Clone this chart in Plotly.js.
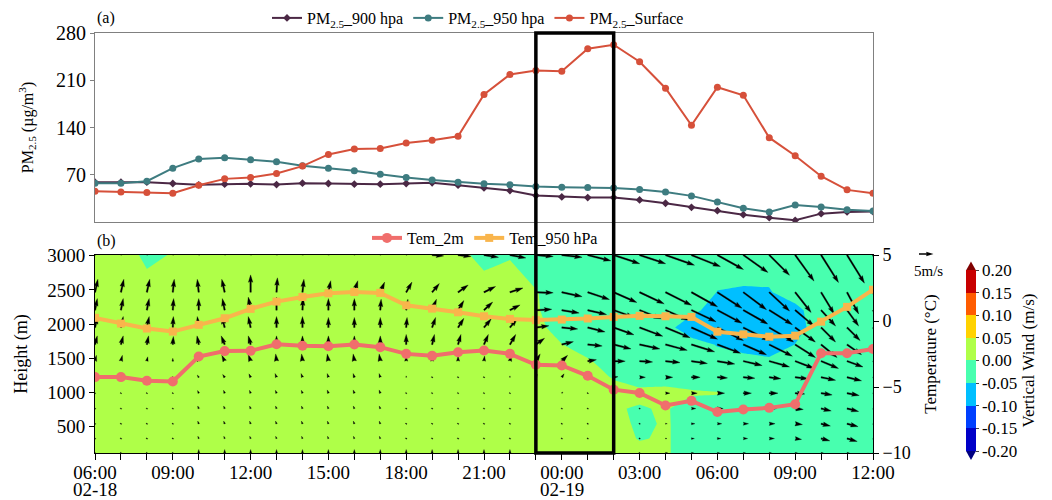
<!DOCTYPE html>
<html>
<head>
<meta charset="utf-8">
<script src="https://cdn.plot.ly/plotly-3.0.1.min.js"></script>
<style>html,body{margin:0;padding:0;background:#fff;}#chart{width:1052px;height:500px;}</style>
</head>
<body>
<div id="chart"></div>
<script>
// ================= DATA =================
// hours since 02-18 06:00
const hours = [0,1,2,3,4,5,6,7,8,9,10,11,12,13,14,15,16,17,18,19,20,21,22,23,24,25,26,27,28,29,30];
const tickHours = [0,3,6,9,12,15,18,21,24,27,30];
const tickLabels = ['06:00','09:00','12:00','15:00','18:00','21:00','00:00','03:00','06:00','09:00','12:00'];
const dateHours = [0,18];
const dateLabels = ['02-18','02-19'];

// (a) PM2.5 (ug/m3)
const pm900 = [59,59,59,57,55,56,56.5,55.5,57.5,57,56,56,57,58,54.5,50.5,46.6,39.2,37.2,36.2,36.2,32.7,27.8,21.8,16.8,10.9,6.4,2.5,12.4,14.9,15.4];
const pm950 = [57.5,57.5,60.5,79.8,93.2,95.2,92.2,89.2,83.3,79.8,75.8,70.9,65.9,62.4,59,56.5,55,52.5,51.5,51,50.5,48,44.6,38.7,29.7,20.3,14.9,25.3,22.3,18.3,16.4];
const pmSurface = [45.6,44.6,43.6,42.6,54.5,63.9,65.9,71.9,82.8,100.1,108,109,117,121,127,189,218.6,224.5,223.5,256.7,262.7,237.4,198.2,143.2,199.7,187.8,124.9,98.1,67.9,47.6,42.6];

// (b) temperature (deg C)
const tem2m = [-4.25,-4.25,-4.53,-4.58,-2.69,-2.28,-2.26,-1.76,-1.88,-1.91,-1.78,-1.98,-2.49,-2.64,-2.36,-2.23,-2.49,-3.32,-3.37,-4.15,-5.2,-5.45,-6.4,-6.05,-6.9,-6.7,-6.58,-6.3,-2.44,-2.44,-2.12];
const tem950 = [0.24,-0.19,-0.57,-0.8,-0.29,0.21,0.92,1.47,1.82,2.1,2.2,2.13,1.19,0.94,0.66,0.36,0.16,0.07,0.11,0.19,0.31,0.39,0.36,0.31,-0.81,-1.01,-1.19,-1.11,-0.05,1.07,2.37];

// (b) height of levels 1000,975,950,925,900,875,850,825,800,775,750,700 hPa (m)
const levelHeights = [111,323,540,762,988,1220,1457,1700,1949,2204,2466,3012];

// vertical wind (m/s), one row per level (bottom -> top), one value per hour
const verticalWind = [
  [0.025,0.025,0.025,0.025,0.025,0.025,0.025,0.025,0.025,0.025,0.025,0.025,0.025,0.025,0.025,0.025,0.025,0.025,0.025,0.025,0.02,0.015,0.005,-0.02,-0.02,-0.02,-0.02,-0.02,-0.02,-0.02,-0.02],
  [0.025,0.025,0.025,0.025,0.025,0.025,0.025,0.025,0.025,0.025,0.025,0.025,0.025,0.025,0.025,0.025,0.025,0.025,0.025,0.025,0.02,-0.003,0.005,-0.02,-0.02,-0.02,-0.02,-0.02,-0.02,-0.02,-0.02],
  [0.025,0.025,0.025,0.025,0.025,0.025,0.025,0.025,0.025,0.025,0.025,0.025,0.025,0.025,0.025,0.025,0.025,0.025,0.025,0.025,0.02,-0.01,0.005,-0.02,-0.02,-0.02,-0.02,-0.02,-0.02,-0.02,-0.02],
  [0.025,0.025,0.025,0.025,0.025,0.025,0.025,0.025,0.025,0.025,0.025,0.025,0.025,0.025,0.025,0.025,0.025,0.025,0.025,0.025,0.004,-0.004,0.005,-0.023,-0.02,-0.02,-0.02,-0.02,-0.02,-0.02,-0.02],
  [0.025,0.025,0.025,0.025,0.025,0.025,0.025,0.025,0.025,0.025,0.025,0.025,0.025,0.025,0.025,0.025,0.025,0.025,0.025,0.025,0.02,0.011,0.014,0.005,0.0022,-0.02,-0.02,-0.02,-0.02,-0.02,-0.02],
  [0.025,0.025,0.025,0.025,0.025,0.025,0.025,0.025,0.025,0.025,0.025,0.025,0.025,0.025,0.025,0.025,0.025,0.025,0.025,0.025,-0.004,-0.02,-0.02,-0.02,-0.025,-0.025,-0.025,-0.025,-0.025,-0.025,-0.025],
  [0.025,0.025,0.025,0.025,0.025,0.025,0.025,0.025,0.025,0.025,0.025,0.025,0.025,0.025,0.025,0.025,0.025,0.025,0.025,0.006,-0.025,-0.025,-0.025,-0.025,-0.025,-0.025,-0.035,-0.025,-0.025,-0.025,-0.025],
  [0.025,0.025,0.025,0.025,0.025,0.025,0.025,0.025,0.025,0.025,0.025,0.025,0.025,0.025,0.025,0.025,0.025,0.025,0.001,-0.025,-0.025,-0.025,-0.025,-0.021,-0.054,-0.078,-0.095,-0.049,-0.025,-0.025,-0.025],
  [0.025,0.025,0.025,0.025,0.025,0.025,0.025,0.025,0.025,0.025,0.025,0.025,0.025,0.025,0.025,0.025,0.025,0.015,-0.022,-0.025,-0.025,-0.025,-0.025,-0.093,-0.09,-0.095,-0.095,-0.07,-0.025,-0.025,-0.025],
  [0.025,0.025,0.025,0.025,0.025,0.025,0.025,0.025,0.025,0.025,0.025,0.025,0.025,0.025,0.025,0.025,0.025,0.006,-0.03,-0.025,-0.025,-0.025,-0.025,-0.032,-0.08,-0.09,-0.09,-0.062,-0.025,-0.025,-0.025],
  [0.025,0.025,0.025,0.025,0.025,0.025,0.025,0.025,0.025,0.025,0.025,0.025,0.025,0.025,0.025,0.019,0.026,0.003,-0.025,-0.025,-0.025,-0.025,-0.025,-0.025,-0.051,-0.054,-0.053,-0.03,-0.025,-0.025,-0.025],
  [0.025,0.034,-0.015,0.004,0.025,0.025,0.025,0.025,0.025,0.025,0.025,0.025,0.025,0.025,0.012,-0.014,-0.004,-0.03,-0.03,-0.03,-0.03,-0.03,-0.03,-0.03,-0.03,-0.03,-0.03,-0.03,-0.03,-0.03,-0.03]
];

// horizontal wind components (m/s), same grid
const windU = [
  [0,0,0,0,0,0,0,0,0,0,0,0,0,0,0,0,0,0.2,0.2,0.2,0.2,0.2,0.8,0.8,0.8,0.8,0.8,0.8,0.8,0.8,0.8],
  [0,0,0,0,-0.3,-0.3,-0.3,-0.3,-0.3,-0.3,-0.3,-0.3,0,0,0,0,0,0.2,0.2,0.2,0.2,0.2,0.5,1,1.2,1.5,1.8,2.2,3,3.5,3.5],
  [0,0,0,0,-0.35,-0.35,-0.35,-0.35,-0.35,-0.35,-0.35,-0.35,0,0,0,0,0,0.2,0.2,0.2,0.2,0.2,0.6,1.2,1.5,1.8,2,2.5,3.2,3.8,3.8],
  [0,0,0,0,-0.35,-0.35,-0.35,-0.35,-0.35,-0.35,-0.35,-0.35,0,0,0,0,0,0.1,0.2,0.2,0.3,0.4,0.8,1.5,2,2.2,2.5,2.8,3.5,4,4],
  [0,0,0,0,-0.4,-0.4,-0.4,-0.4,-0.4,-0.4,-0.4,-0.4,0,0,0,0,0,0.2,0.4,0.3,0.5,0.8,1.5,2,2.5,2.8,3,3.3,3.8,4.2,4.5],
  [0.1,0.1,0.1,0,-0.5,-0.7,-0.6,-0.5,-0.5,-0.4,-0.4,-0.4,0,0,0,0,0,0.5,0.8,1,1.5,2,2.5,3,3.5,4,4,4.5,5,5,5],
  [0.5,0.5,0.3,0,-0.6,-1,-0.8,-0.3,-0.3,-0.4,-0.4,-0.4,0,0,0,0.2,0.5,1.5,2,3,4,4.5,5,5.5,6,6.5,7,6.5,6,5.5,5],
  [0.8,0.8,0.6,0.2,-0.6,-1.2,-0.8,0,0,0,0,0,0,0.8,1,1.5,2,3,4,5,6,7,7.5,8,8,8,8,7,5.5,5,4.5],
  [0.8,0.8,0.8,0.2,-0.5,-1,-0.8,0,0,0,0,0,0.3,1.2,2,2.5,2.5,4.5,5.5,6,7,8,8.5,9,9,9,8.5,7,5,4.5,4],
  [0.8,0.8,0.8,0.3,0,-0.8,-0.8,0,0.2,0,0,0.3,0.6,1.5,2,3,3.5,5.5,6,6.5,7,7.5,8,8.5,8.5,8.5,8,6.5,5,4,3.5],
  [1,1,1,0.5,-0.5,-1,0,0.3,0.5,0.8,1.2,1.5,2,2.5,3.5,4,4.5,6,7,7.5,8,8.5,9,9,8.5,8,7,5.5,4.5,4,3.5],
  [1,1,1,1,1,1,1,1,1,1,1,1,2,4,4.5,5,5.5,6,7,8,9,9,10,10,9,8.5,7,6.5,6,6,5.5]
];
const windV = [
  [0.2,0.2,0.2,0.2,1.2,1.2,1.2,1.2,1.2,1.2,1.2,1.2,1.2,1.2,1.2,1.2,1.2,0.2,0.2,0.2,0.2,0.2,0,0,0,0,0,0,0,0,0],
  [0.1,0.1,0.1,0.1,0.8,0.8,0.8,0.8,0.8,0.8,0.8,0.8,0.4,0.4,0.4,0.4,0.4,0.1,0.1,0.1,0.1,0.1,0,0,0,0,0,-0.3,-0.8,-1,-1],
  [0.1,0.1,0.1,0.1,0.9,0.9,0.9,0.9,0.9,0.9,0.9,0.9,0.35,0.35,0.35,0.35,0.35,0.1,0.1,0.1,0.1,0.1,0,0,0,0,0,-0.3,-0.8,-1,-1],
  [0.1,0.1,0.1,0.1,0.9,0.9,0.9,0.9,0.9,0.9,0.9,0.9,0.3,0.3,0.3,0.3,0.3,0.2,0.2,0.2,0.1,0,0,0,0,0,0,-0.3,-0.8,-1,-1],
  [0.15,0.15,0.15,0.15,0.9,1,1,1,1,1.1,1.1,1.1,0.3,0.3,0.3,0.3,0.3,0.3,0.4,0.2,0,0,0,0,0,0,0,-0.3,-0.6,-0.8,-0.8],
  [0.3,0.3,0.3,0.3,0.8,1,1.2,1.3,1.3,1.3,1.3,1.3,0.5,0.4,0.4,0.4,0.5,1,1.2,0.5,0.2,0,0,0,-0.2,-0.3,-0.5,-0.5,-1,-1.2,-1.2],
  [2,2,1.5,1,1.6,2,2.3,2.5,2.5,2.5,2.5,2.5,1.8,1.8,1.8,1.8,2,2.5,2,0.5,0,-0.3,-0.5,-0.8,-1,-1.5,-2,-2.5,-2.5,-2,-2],
  [3,3,3,2.8,3,3,3,3,3,3,3,3,3.5,3.5,3.5,3.5,3.5,2.2,1,-0.5,-1.5,-1.5,-2,-2.5,-3,-3.5,-4,-4.5,-4.5,-3.5,-3],
  [3.8,3.8,3.8,3.8,3.8,3.8,3.8,3.8,3.8,3.5,3.5,3.5,3.5,3.5,3.2,3,3,0.6,-0.5,-1.5,-2.5,-3,-3.5,-4,-4.5,-4.5,-5,-5,-5,-4.5,-4],
  [4,4,4,4,4,4,4.5,4.5,4.2,4,4,3.8,3.8,3.8,3.3,2.8,1.8,0.3,-1,-1.5,-2.5,-3,-3.5,-4,-4.5,-4.8,-5,-5.5,-5.5,-5.5,-5],
  [4.5,4.5,4.5,4.5,4.5,4.5,6,5,4.5,4,4,3.5,3.5,3,2.5,2,1.5,-0.2,-1.5,-2.5,-3.5,-4,-4.5,-5,-5.5,-6,-6.5,-7,-7.5,-7.5,-7.5],
  [5,5,5,5,5,5,5,5,5,5,5,5,4,-0.3,-0.5,-0.8,-1,-0.5,-0.8,-2,-3,-3,-3.5,-4,-5,-6,-7,-9,-9.5,-9.7,-10]
];

// colour levels of vertical wind
const windLevels = [-0.2,-0.15,-0.1,-0.05,0,0.05,0.1,0.15,0.2];
const windTickText = ['-0.20','-0.15','-0.10','-0.05','0.00','0.05','0.10','0.15','0.20'];
const windBandColors = ['#0000c8','#0040ff','#00bfff','#48ffaf','#afff48','#ffd200','#ff5c00','#c80000'];
const windUnderColor = '#000080';
const windOverColor = '#800000';

// highlighted period 23:00 - 02:00
const highlightStart = 17, highlightEnd = 20;
const keySpeed = 5; // quiver key, m/s

// ================= GEOMETRY =================
const W = 1052, H = 500;
const M = {l: 95, r: 179, t: 33, b: 47};
const PW = W - M.l - M.r, PH = H - M.t - M.b;
const topDom = [0.55, 1];
const botDom = [0, 0.4714];
const X_RANGE = [0, 30];
const Y2_RANGE = [levelHeights[0], levelHeights[levelHeights.length - 1]];
const pxPerHour = PW / (X_RANGE[1] - X_RANGE[0]);
const pxPerM = (PH * (botDom[1] - botDom[0])) / (Y2_RANGE[1] - Y2_RANGE[0]);
const ARROW_SCALE = 2.9; // px per m/s
const FONT = 'Liberation Serif, Times New Roman, serif';

function px2paperX(px) { return (px - M.l) / PW; }
function px2paperY(py) { return (H - M.b - py) / PH; }

// arrow outline in px (y up), tail at origin
function arrowOutline(u, v) {
  const L = Math.hypot(u, v) * ARROW_SCALE;
  const w = 1.5, hl = 7.5, hal = 6.75, hw = 4.5;
  let pts;
  if (L < 1.2) {
    pts = [];
    for (let k = 0; k < 6; k++) { const a = k * Math.PI / 3; pts.push([0.8 * Math.cos(a), 0.8 * Math.sin(a)]); }
    return pts;
  } else if (L < hl) {
    const s = L / hl;
    pts = [[0, -hw / 2 * s], [L, 0], [0, hw / 2 * s], [(hl - hal) * s, 0]];
  } else {
    pts = [[0, -w / 2], [L - hal, -w / 2], [L - hl, -hw / 2], [L, 0], [L - hl, hw / 2], [L - hal, w / 2], [0, w / 2]];
  }
  const ang = Math.atan2(v, u), c = Math.cos(ang), s2 = Math.sin(ang);
  return pts.map(([a, b]) => [a * c - b * s2, a * s2 + b * c]);
}

const arrX = [], arrY = [];
levelHeights.forEach((hgt, r) => {
  hours.forEach((t, c) => {
    const pts = arrowOutline(windU[r][c], windV[r][c]);
    pts.forEach(([a, b]) => { arrX.push(t + a / pxPerHour); arrY.push(hgt + b / pxPerM); });
    arrX.push(t + pts[0][0] / pxPerHour); arrY.push(hgt + pts[0][1] / pxPerM);
    arrX.push(null); arrY.push(null);
  });
});

// contour colourscale: band k is sampled near k/9 (robust step edges)
const contourScale = [];
const allCols = [windUnderColor].concat(windBandColors).concat([windOverColor]);
const off = 1 / 36;
for (let k = 0; k < allCols.length; k++) {
  const a = Math.max(0, k / 9 - off), b = Math.min(1, (k + 1) / 9 - off);
  if (b <= a) continue;
  contourScale.push([a, allCols[k]]);
  contourScale.push([b, allCols[k]]);
}
contourScale[contourScale.length - 1][0] = 1;

// colorbar (stepped) scale
const barScale = [];
windBandColors.forEach((col, i) => {
  barScale.push([i / windBandColors.length, col]);
  barScale.push([(i + 1) / windBandColors.length, col]);
});

// ================= TRACES =================
const traces = [
  {type: 'scatter', mode: 'lines+markers', x: hours, y: pm900, name: 'PM<sub>2.5</sub>_900 hpa', xaxis: 'x', yaxis: 'y',
   line: {color: '#4b2845', width: 2}, marker: {symbol: 'diamond', size: 6, color: '#4b2845'}, legend: 'legend'},
  {type: 'scatter', mode: 'lines+markers', x: hours, y: pm950, name: 'PM<sub>2.5</sub>_950 hpa', xaxis: 'x', yaxis: 'y',
   line: {color: '#3e7c80', width: 2}, marker: {symbol: 'circle', size: 7, color: '#3e7c80'}, legend: 'legend'},
  {type: 'scatter', mode: 'lines+markers', x: hours, y: pmSurface, name: 'PM<sub>2.5</sub>_Surface', xaxis: 'x', yaxis: 'y',
   line: {color: '#d6503a', width: 2}, marker: {symbol: 'circle', size: 7, color: '#d6503a'}, legend: 'legend'},
  {type: 'heatmap', x: hours, y: levelHeights, z: verticalWind, xaxis: 'x2', yaxis: 'y2', opacity: 0,
   zmin: windLevels[0], zmax: windLevels[windLevels.length - 1], colorscale: barScale, showscale: true, hoverinfo: 'skip',
   colorbar: {thickness: 10, thicknessmode: 'pixels', len: 181, lenmode: 'pixels',
     x: px2paperX(966), xanchor: 'left', xpad: 0, y: px2paperY(360.5), yanchor: 'middle', ypad: 0,
     outlinewidth: 0, tickvals: windLevels, ticktext: windTickText, ticks: 'outside', ticklen: 3,
     tickfont: {size: 17, family: FONT}, title: {text: 'Vertical Wind (m/s)', side: 'right', font: {size: 17, family: FONT}}}},
  {type: 'contour', x: hours, y: levelHeights, z: verticalWind, xaxis: 'x2', yaxis: 'y2',
   autocontour: false, contours: {start: windLevels[0], end: windLevels[windLevels.length - 1], size: 0.05, coloring: 'fill', showlines: false},
   line: {width: 0, smoothing: 0}, colorscale: contourScale, showscale: false, hoverinfo: 'skip'},
  {type: 'scatter', mode: 'lines', x: arrX, y: arrY, xaxis: 'x2', yaxis: 'y2', fill: 'toself', fillcolor: '#000',
   line: {color: '#000', width: 0.3}, showlegend: false, hoverinfo: 'skip'},
  {type: 'scatter', mode: 'lines+markers', x: hours, y: tem2m, name: 'Tem_2m', xaxis: 'x2', yaxis: 'y3',
   line: {color: '#f06e6c', width: 4}, marker: {symbol: 'circle', size: 10, color: '#f06e6c'}, legend: 'legend2'},
  {type: 'scatter', mode: 'lines+markers', x: hours, y: tem950, name: 'Tem_950 hPa', xaxis: 'x2', yaxis: 'y3',
   line: {color: '#f9b54c', width: 4}, marker: {symbol: 'square', size: 8, color: '#f9b54c'}, legend: 'legend2'}
];

// ================= SHAPES =================
function polyPath(pts) { return 'M' + pts.map(p => p[0].toFixed(5) + ',' + p[1].toFixed(5)).join('L') + 'Z'; }
const shapes = [];
shapes.push({type: 'rect', xref: 'x', yref: 'paper', x0: highlightStart, x1: highlightEnd, y0: 0, y1: 1,
  line: {color: '#000', width: 3.5}, fillcolor: 'rgba(0,0,0,0)', layer: 'above'});
const cbL = 966, cbR = 976, cbTop = 270.5, cbBot = 451;
shapes.push({type: 'path', xref: 'paper', yref: 'paper', fillcolor: windOverColor, line: {width: 0},
  path: polyPath([[px2paperX(cbL), px2paperY(cbTop)], [px2paperX(cbR), px2paperY(cbTop)], [px2paperX((cbL + cbR) / 2), px2paperY(cbTop - 9)]])});
shapes.push({type: 'path', xref: 'paper', yref: 'paper', fillcolor: windUnderColor, line: {width: 0},
  path: polyPath([[px2paperX(cbL), px2paperY(cbBot)], [px2paperX(cbR), px2paperY(cbBot)], [px2paperX((cbL + cbR) / 2), px2paperY(cbBot + 9)]])});
const keyPts = arrowOutline(keySpeed, 0);
const keyTail = [919, 254];
shapes.push({type: 'path', xref: 'paper', yref: 'paper', fillcolor: '#000', line: {width: 0},
  path: polyPath(keyPts.map(([a, b]) => [px2paperX(keyTail[0] + a), px2paperY(keyTail[1] - b)]))});

// ================= LAYOUT =================
const axisCommon = {showgrid: false, zeroline: false, showline: true, fixedrange: true};
const annotations = [
  {text: '(a)', xref: 'paper', yref: 'paper', x: 0, y: px2paperY(18), xanchor: 'left', yanchor: 'middle', showarrow: false, font: {size: 16}},
  {text: '(b)', xref: 'paper', yref: 'paper', x: 0, y: px2paperY(241), xanchor: 'left', yanchor: 'middle', showarrow: false, font: {size: 16}},
  {text: '5m/s', xref: 'paper', yref: 'paper', x: px2paperX(928), y: px2paperY(271), xanchor: 'center', yanchor: 'middle', showarrow: false, font: {size: 15}}
];
dateHours.forEach((h, i) => annotations.push({text: dateLabels[i], xref: 'x2', yref: 'paper', x: h, y: px2paperY(490),
  xanchor: 'center', yanchor: 'middle', showarrow: false, font: {size: 19}}));

const layout = {
  width: W, height: H,
  margin: {l: M.l, r: M.r, t: M.t, b: M.b, pad: 0, autoexpand: false},
  paper_bgcolor: '#fff', plot_bgcolor: 'rgba(0,0,0,0)',
  font: {family: FONT, size: 16, color: '#000'},
  xaxis: Object.assign({}, axisCommon, {domain: [0, 1], anchor: 'y', range: X_RANGE, showticklabels: false, ticks: '',
    mirror: true, linecolor: '#808080', linewidth: 1}),
  yaxis: Object.assign({}, axisCommon, {domain: topDom, anchor: 'x', range: [0, 280], tickvals: [70, 140, 210, 280],
    ticks: 'outside', ticklen: 4, tickcolor: '#808080', mirror: true, linecolor: '#808080', linewidth: 1,
    tickfont: {size: 20}, title: {text: 'PM<sub>2.5</sub> (µg/m<sup>3</sup>)', font: {size: 16}, standoff: 18}}),
  xaxis2: Object.assign({}, axisCommon, {domain: [0, 1], anchor: 'y2', range: X_RANGE, tickmode: 'array', tickvals: tickHours,
    ticktext: tickLabels, ticks: 'outside', ticklen: 6, tickcolor: '#000', mirror: true, linecolor: '#000', linewidth: 1,
    ticklabelstandoff: -4, tickfont: {size: 19},
    minor: {tickmode: 'array', tickvals: hours, ticks: 'outside', ticklen: 6, tickcolor: '#000', showgrid: false}}),
  yaxis2: Object.assign({}, axisCommon, {domain: botDom, anchor: 'x2', range: Y2_RANGE, tickvals: [500, 1000, 1500, 2000, 2500, 3000],
    ticks: 'outside', ticklen: 5, tickcolor: '#000', mirror: true, linecolor: '#000', linewidth: 1,
    tickfont: {size: 19}, title: {text: 'Height (m)', font: {size: 18}, standoff: 14}}),
  yaxis3: Object.assign({}, axisCommon, {overlaying: 'y2', anchor: 'x2', side: 'right', range: [-10, 5], tickvals: [-10, -5, 0, 5],
    ticks: 'outside', ticklen: 5, tickcolor: '#000', linecolor: '#000', linewidth: 1,
    tickfont: {size: 18}, title: {text: 'Temperature (°C)', font: {size: 17}, standoff: 14}}),
  legend: {orientation: 'h', x: px2paperX(478), xanchor: 'center', y: px2paperY(18), yanchor: 'middle',
    font: {size: 16}, bgcolor: 'rgba(0,0,0,0)', itemwidth: 30},
  legend2: {orientation: 'h', x: px2paperX(485), xanchor: 'center', y: px2paperY(238), yanchor: 'middle',
    font: {size: 16}, bgcolor: 'rgba(0,0,0,0)', itemwidth: 30},
  shapes: shapes,
  annotations: annotations
};

Plotly.newPlot('chart', traces, layout, {displayModeBar: false, staticPlot: true});
</script>
</body>
</html>
